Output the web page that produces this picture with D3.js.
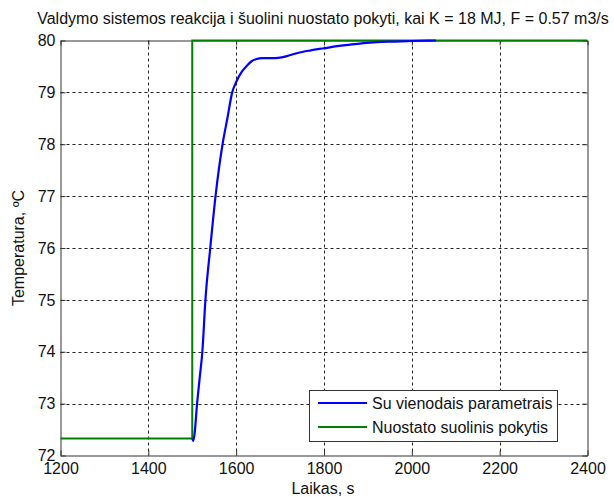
<!DOCTYPE html>
<html>
<head>
<meta charset="utf-8">
<script src="https://cdn.jsdelivr.net/npm/d3@7"></script>
<style>
  html, body { margin: 0; padding: 0; background: #fff; }
  svg { display: block; }
  text { font-family: "Liberation Sans", Arial, sans-serif; fill: #111; }
</style>
</head>
<body>
<svg id="chart" width="614" height="497"></svg>
<script>
// Step response of the control system (time in s, temperature in °C)
const responseTime = [1500, 1502, 1505, 1511, 1517, 1523, 1530, 1541, 1553, 1569, 1580, 1591, 1600, 1613, 1625, 1635, 1645, 1660, 1680, 1700, 1720, 1740, 1770, 1800, 1830, 1860, 1890, 1920, 1960, 2000, 2055];
const responseTemp = [72.33, 72.28, 72.40, 73.00, 73.50, 74.00, 75.00, 76.00, 77.00, 78.00, 78.50, 79.00, 79.20, 79.40, 79.52, 79.60, 79.64, 79.66, 79.66, 79.67, 79.71, 79.76, 79.81, 79.85, 79.89, 79.92, 79.95, 79.97, 79.98, 79.99, 80.00];

// Setpoint step
const setpointTime = [1200, 1500, 1500, 2400];
const setpointTemp = [72.33, 72.33, 80, 80];

const xTicks = [1200, 1400, 1600, 1800, 2000, 2200, 2400];
const yTicks = [72, 73, 74, 75, 76, 77, 78, 79, 80];

const seriesNames = ["Su vienodais parametrais", "Nuostato suolinis pokytis"];
const seriesColors = ["#0000ff", "#008000"];

const titleText = "Valdymo sistemos reakcija i šuolini nuostato pokyti, kai K = 18 MJ, F = 0.57 m3/s";
const xLabel = "Laikas, s";
const yLabel = "Temperatura, ºC";

const svg = d3.select("#chart");
const plotLeft = 60.5, plotRight = 587.5, plotTop = 40.5, plotBottom = 455.5;
const fontSize = 16;

const x = d3.scaleLinear().domain([1200, 2400]).range([plotLeft, plotRight]);
const y = d3.scaleLinear().domain([72, 80]).range([plotBottom, plotTop]);

// dotted grid
const grid = svg.append("g").attr("stroke", "#222").attr("stroke-width", 1).attr("stroke-dasharray", "3,3");
grid.selectAll("line.gx").data(xTicks.slice(1, -1)).join("line")
  .attr("x1", d => Math.round(x(d)) + 0.5).attr("x2", d => Math.round(x(d)) + 0.5)
  .attr("y1", plotTop).attr("y2", plotBottom);
grid.selectAll("line.gy").data(yTicks.slice(1, -1)).join("line")
  .attr("y1", d => Math.round(y(d)) + 0.5).attr("y2", d => Math.round(y(d)) + 0.5)
  .attr("x1", plotLeft).attr("x2", plotRight);

// axes (ticks pointing inward, box on all sides)
const axisStyle = g => {
  g.selectAll("path").attr("stroke", "#333");
  g.selectAll("line").attr("stroke", "#333");
  g.selectAll("text").attr("font-size", fontSize).attr("fill", "#111")
    .attr("font-family", "'Liberation Sans', Arial, sans-serif");
};
svg.append("g").attr("transform", `translate(0,${plotBottom})`)
  .call(d3.axisBottom(x).tickValues(xTicks).tickFormat(d3.format("d")).tickSizeInner(-5).tickSizeOuter(0).tickPadding(7))
  .call(axisStyle);
svg.append("g").attr("transform", `translate(${plotLeft},0)`)
  .call(d3.axisLeft(y).tickValues(yTicks).tickFormat(d3.format("d")).tickSizeInner(-5).tickSizeOuter(0).tickPadding(5))
  .call(axisStyle);
svg.append("g").attr("transform", `translate(0,${plotTop})`)
  .call(d3.axisTop(x).tickValues(xTicks).tickFormat("").tickSizeInner(-5).tickSizeOuter(0))
  .call(axisStyle);
svg.append("g").attr("transform", `translate(${plotRight},0)`)
  .call(d3.axisRight(y).tickValues(yTicks).tickFormat("").tickSizeInner(-5).tickSizeOuter(0))
  .call(axisStyle);

// lines
const line = d3.line().x(d => x(d[0])).y(d => y(d[1]));
const setpoint = setpointTime.map((t, i) => [t, setpointTemp[i]]);
const response = responseTime.map((t, i) => [t, responseTemp[i]]);
svg.append("path").datum(setpoint).attr("d", line)
  .attr("fill", "none").attr("stroke", seriesColors[1]).attr("stroke-width", 2);
svg.append("path").datum(response).attr("d", d3.line().curve(d3.curveMonotoneX).x(d => x(d[0])).y(d => y(d[1])))
  .attr("fill", "none").attr("stroke", seriesColors[0]).attr("stroke-width", 2.2);

// title and labels
svg.append("text").attr("x", 323).attr("y", 24).attr("text-anchor", "middle")
  .attr("font-size", fontSize).text(titleText);
svg.append("text").attr("x", 323).attr("y", 494).attr("text-anchor", "middle")
  .attr("font-size", fontSize).text(xLabel);
svg.append("text").attr("transform", `translate(24,${(plotTop + plotBottom) / 2}) rotate(-90)`)
  .attr("text-anchor", "middle").attr("font-size", fontSize).text(yLabel);

// legend
const lg = svg.append("g");
lg.append("rect").attr("x", 309.5).attr("y", 390.5).attr("width", 248).attr("height", 51)
  .attr("fill", "#fff").attr("stroke", "#333").attr("stroke-width", 1);
seriesNames.forEach((name, i) => {
  const yy = 403 + i * 24;
  lg.append("line").attr("x1", 318).attr("x2", 367).attr("y1", yy).attr("y2", yy)
    .attr("stroke", seriesColors[i]).attr("stroke-width", 2);
  lg.append("text").attr("x", 372).attr("y", yy + 6).attr("font-size", fontSize).text(name);
});
</script>
</body>
</html>
